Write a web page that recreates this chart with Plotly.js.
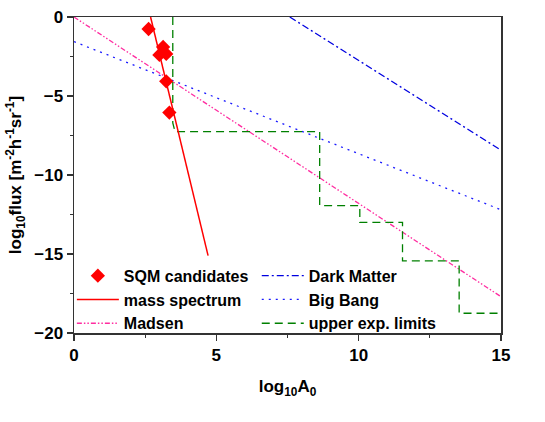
<!DOCTYPE html>
<html><head><meta charset="utf-8">
<script src="https://cdn.plot.ly/plotly-3.0.1.min.js"></script>
<style>body{margin:0;background:#fff}#c{width:545px;height:422px}</style>
</head><body><div id="c"></div>
<script>
const sqmX = [2.62, 3.0, 3.13, 3.24, 3.24, 3.35];
const sqmY = [-0.76, -2.4, -1.9, -2.34, -4.07, -6.05];
const massX = [2.69, 4.71];
const massY = [0, -15.1];
const madsenX = [0, 15];
const madsenY = [0, -17.7];
const darkX = [7.58, 15];
const darkY = [0, -8.43];
const bigBangX = [0, 15];
const bigBangY = [-1.56, -12.2];
const limitsX = [3.47, 3.47, 3.55, 8.63, 8.63, 10.04, 10.04, 11.54, 11.54, 13.53, 13.53, 15];
const limitsY = [0, -6.7, -7.26, -7.26, -11.94, -11.94, -13.0, -13.0, -15.44, -15.44, -18.75, -18.75];
const xTicks = [0, 5, 10, 15];
const yTicks = [0, -5, -10, -15, -20];

const F = 'Liberation Sans, Arial, sans-serif';
const traces = [
  {x: madsenX, y: madsenY, mode: 'lines', name: 'Madsen', legend: 'legend', legendrank: 3,
   line: {color: '#ff2ca0', width: 1.3, dash: '5px,2px,1.5px,2px,1.5px,2px'}},
  {x: bigBangX, y: bigBangY, mode: 'lines', name: 'Big Bang', legend: 'legend2', legendrank: 2,
   line: {color: '#1a1aff', width: 1.3, dash: '2px,5px'}},
  {x: darkX, y: darkY, mode: 'lines', name: 'Dark Matter', legend: 'legend2', legendrank: 1,
   line: {color: '#0000e0', width: 1.3, dash: '7px,3px,2px,3px'}},
  {x: limitsX, y: limitsY, mode: 'lines', name: 'upper exp. limits', legend: 'legend2', legendrank: 3,
   line: {color: '#008000', width: 1.3, dash: '8px,5px'}},
  {x: massX, y: massY, mode: 'lines', name: 'mass spectrum', legend: 'legend', legendrank: 2,
   line: {color: '#ff0000', width: 1.5}},
  {x: sqmX, y: sqmY, mode: 'markers', name: 'SQM candidates', legend: 'legend', legendrank: 1,
   marker: {symbol: 'diamond', color: '#ff0000', size: 11}, cliponaxis: false}
];

const axisCommon = {
  showgrid: false, zeroline: false, showline: true, linecolor: '#333', linewidth: 1.5,
  mirror: true, ticks: 'outside', ticklen: 6, tickwidth: 1.3, tickcolor: '#333',
  tickfont: {family: F, size: 17, color: '#000', weight: 'bold'},
  minor: {ticks: 'outside', ticklen: 3, tickwidth: 1.2, tickcolor: '#333', dtick: 2.5}
};
const legendCommon = {
  font: {family: F, size: 16, color: '#000', weight: 'bold'},
  bgcolor: 'rgba(0,0,0,0)', borderwidth: 0, tracegroupgap: 0, itemwidth: 42,
  traceorder: 'normal', xanchor: 'left', yanchor: 'top'
};

const layout = {
  width: 545, height: 422,
  margin: {l: 74, r: 44, t: 17, b: 89},
  paper_bgcolor: '#fff', plot_bgcolor: '#fff',
  xaxis: Object.assign({}, axisCommon, {
    range: [0, 15], tickvals: xTicks,
    title: {text: 'log<sub>10</sub>A<sub>0</sub>', font: {family: F, size: 17, color: '#000', weight: 'bold'}, standoff: 16}
  }),
  yaxis: Object.assign({}, axisCommon, {
    range: [-20, 0], tickvals: yTicks,
    title: {text: 'log<sub>10</sub>flux [m<sup>-2</sup>h<sup>-1</sup>sr<sup>-1</sup>]', font: {family: F, size: 17, color: '#000', weight: 'bold'}, standoff: 8}
  }),
  showlegend: true,
  legend: Object.assign({}, legendCommon, {x: -0.005, y: 0.235}),
  legend2: Object.assign({}, legendCommon, {x: 0.428, y: 0.235})
};
Plotly.newPlot('c', traces, layout, {staticPlot: true});
</script></body></html>
